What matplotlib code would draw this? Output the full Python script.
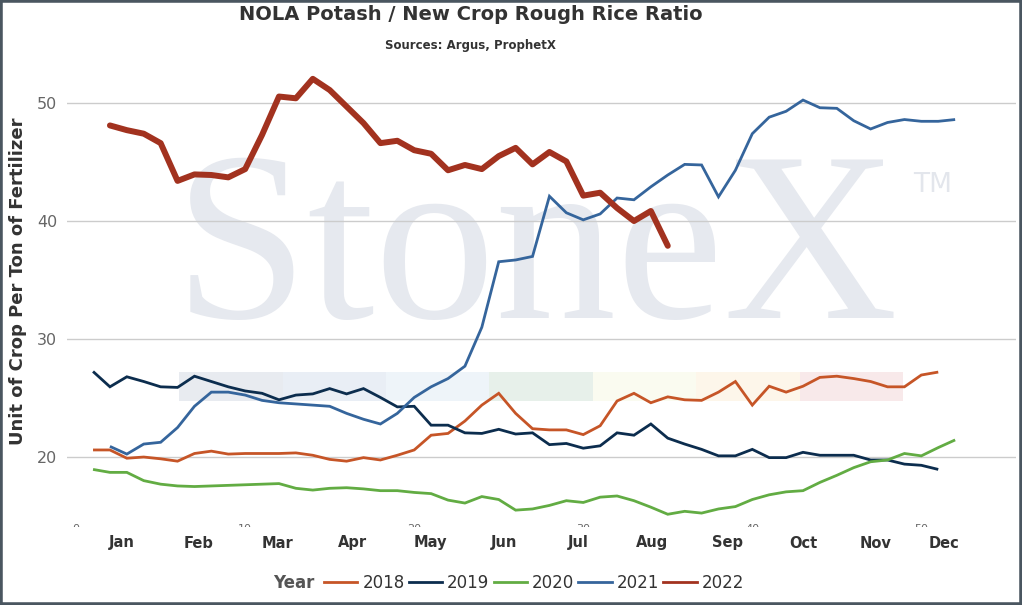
import matplotlib
matplotlib.use('Agg')
import matplotlib.pyplot as plt
import matplotlib.patches as patches
from matplotlib.lines import Line2D
from matplotlib.transforms import Bbox, TransformedBbox
import numpy as np

# weekly ratio values, one list per year
years = ['2018', '2019', '2020', '2021', '2022']
first_week = {'2018': 1, '2019': 1, '2020': 1, '2021': 2, '2022': 2}

ratio_2018 = [20.6, 20.6, 19.9, 20.0, 19.85, 19.65, 20.3, 20.5, 20.25, 20.3,
              20.3, 20.3, 20.35, 20.15, 19.8, 19.65, 19.95, 19.75, 20.15, 20.6,
              21.85, 22.0, 23.05, 24.4, 25.4, 23.7, 22.4, 22.3, 22.3, 21.9,
              22.65, 24.75, 25.4, 24.6, 25.1, 24.85, 24.8, 25.5, 26.4, 24.4,
              26.0, 25.5, 26.0, 26.75, 26.85, 26.65, 26.4, 25.95, 25.95, 26.95,
              27.2]
ratio_2019 = [27.25, 25.95, 26.8, 26.4, 25.95, 25.9, 26.85, 26.4, 25.95, 25.6,
              25.4, 24.85, 25.25, 25.35, 25.8, 25.35, 25.8, 25.05, 24.25, 24.3,
              22.7, 22.7, 22.05, 22.0, 22.35, 21.95, 22.05, 21.05, 21.15, 20.75,
              20.95, 22.05, 21.85, 22.8, 21.6, 21.1, 20.65, 20.1, 20.1, 20.65,
              19.95, 19.95, 20.4, 20.15, 20.15, 20.15, 19.75, 19.75, 19.4, 19.3,
              18.95]
ratio_2020 = [18.95, 18.7, 18.7, 18.0, 17.7, 17.55, 17.5, 17.55, 17.6, 17.65,
              17.7, 17.75, 17.35, 17.2, 17.35, 17.4, 17.3, 17.15, 17.15, 17.0,
              16.9, 16.35, 16.1, 16.65, 16.4, 15.5, 15.6, 15.9, 16.3, 16.15,
              16.6, 16.7, 16.3, 15.75, 15.15, 15.4, 15.25, 15.6, 15.8, 16.4,
              16.8, 17.05, 17.15, 17.85, 18.45, 19.1, 19.6, 19.75, 20.3, 20.1,
              20.8, 21.45]
ratio_2021 = [20.9, 20.25, 21.1, 21.25, 22.5, 24.3, 25.5, 25.5, 25.25, 24.8,
              24.6, 24.5, 24.4, 24.3, 23.7, 23.2, 22.8, 23.7, 25.05, 25.95,
              26.65, 27.7, 31.0, 36.55, 36.7, 37.0, 42.1, 40.7, 40.1, 40.6,
              41.95, 41.8, 42.9, 43.9, 44.8, 44.75, 42.05, 44.3, 47.4, 48.8,
              49.3, 50.25, 49.6, 49.55, 48.5, 47.8, 48.35, 48.6, 48.45, 48.45,
              48.6]
ratio_2022 = [48.1, 47.7, 47.4, 46.6, 43.4, 43.95, 43.9, 43.7, 44.4, 47.3,
              50.55, 50.4, 52.05, 51.1, 49.7, 48.3, 46.6, 46.8, 46.0, 45.7,
              44.3, 44.75, 44.4, 45.5, 46.2, 44.8, 45.85, 45.05, 42.15, 42.4,
              41.1, 40.0, 40.85, 37.9]

series = {'2018': ratio_2018, '2019': ratio_2019, '2020': ratio_2020,
          '2021': ratio_2021, '2022': ratio_2022}
colors = {'2018': '#c65527', '2019': '#0c2d4e', '2020': '#62ac43',
          '2021': '#35659c', '2022': '#a2321f'}
widths = {'2018': 2.0, '2019': 2.0, '2020': 2.0, '2021': 2.0, '2022': 4.3}

# month labels sit between week ticks
months = ['Jan', 'Feb', 'Mar', 'Apr', 'May', 'Jun', 'Jul', 'Aug', 'Sep',
          'Oct', 'Nov', 'Dec']
month_pos = [2.72, 7.27, 11.89, 16.32, 20.94, 25.32, 29.7, 34.08, 38.52,
             43.01, 47.27, 51.35]
week_ticks = [0, 10, 20, 30, 40, 50]

# logo stripe colours behind the lines
band_colors = ['#e8ebf0', '#e9eef5', '#eef4f9', '#e7f0ea', '#fafbf0',
               '#fdf6ea', '#f8e9ea']

fig = plt.figure(figsize=(10.22, 6.05), dpi=100)
ax = fig.add_axes([67/1022, 82/605, 949/1022, 483/605])
ax.set_xlim(-0.54, 55.6)
ax.set_ylim(14.41, 55.34)

# watermark
ax.text(0.1125, 0.4244, 'StoneX', transform=ax.transAxes, family='Liberation Serif',
        fontsize=174, color='#e6e9ef', zorder=0.2, ha='left', va='baseline')
ax.text(0.892, 0.685, 'TM', transform=ax.transAxes, family='DejaVu Sans',
        fontsize=19, color='#e3e6ec', zorder=0.2, ha='left', va='baseline')

edges = np.linspace(6.09, 48.92, len(band_colors) + 1)
for i, c in enumerate(band_colors):
    ax.add_patch(patches.Rectangle((edges[i], 24.75), edges[i+1] - edges[i], 2.45,
                                   facecolor=c, edgecolor='none', zorder=0.3))

for y in years:
    vals = series[y]
    weeks = np.arange(first_week[y], first_week[y] + len(vals))
    ax.plot(weeks, vals, color=colors[y], lw=widths[y], zorder=2,
            solid_joinstyle='miter' if y != '2022' else 'round',
            solid_capstyle='butt' if y != '2022' else 'round')

ax.set_yticks([20, 30, 40, 50])
ax.yaxis.grid(True, color='#cccccc', lw=1.0)
ax.set_axisbelow(True)
ax.tick_params(axis='y', length=0, pad=7, labelsize=11.5, labelcolor='#666666')

ax.set_xticks(month_pos)
ax.set_xticklabels(months, fontweight='bold', fontsize=10.5, color='#333333')
ax.tick_params(axis='x', which='major', length=0, pad=9)
ax.set_xticks(week_ticks, minor=True)
ax.set_xticklabels([str(w) for w in week_ticks], minor=True, fontsize=8,
                   color='#666666')
ax.tick_params(axis='x', which='minor', length=0, pad=0.5)

for s in ax.spines.values():
    s.set_visible(False)

ax.set_ylabel('Unit of Crop Per Ton of Fertilizer', fontweight='bold',
              fontsize=13, color='#333333')
ax.yaxis.set_label_coords(-0.042, 0.5)

fig.text(471/1022, 1 - 15/605, 'NOLA Potash / New Crop Rough Rice Ratio',
         ha='center', va='center', fontsize=14, fontweight='bold', color='#333333')
fig.text(470/1022, 1 - 46/605, 'Sources: Argus, ProphetX',
         ha='center', va='center', fontsize=8.5, fontweight='bold', color='#333333')

# legend
handles = [Line2D([0], [0], color=colors[y], lw=2) for y in years]
leg = fig.legend(handles, years, loc='center', bbox_to_anchor=(534/1022, 1 - 583/605),
                 ncol=5, frameon=False, fontsize=12, handlelength=2.0,
                 handletextpad=0.3, columnspacing=0.25, labelcolor='#333333')
fig.text(273/1022, 1 - 583/605, 'Year', ha='left', va='center', fontsize=12,
         fontweight='bold', color='#555555')

fig.canvas.draw()
# week numbers only peek out below the plot
clip = TransformedBbox(Bbox([[0, 1 - 527/605], [1, 1]]), fig.transFigure)
for lab in ax.xaxis.get_minorticklabels():
    lab.set_clip_box(clip)
    lab.set_clip_on(True)

# frame
fig.add_artist(patches.Rectangle((0, 0), 1, 1, transform=fig.transFigure,
                                 fill=False, edgecolor='#4a5660', lw=4))

fig.savefig('out.png', dpi=100)
